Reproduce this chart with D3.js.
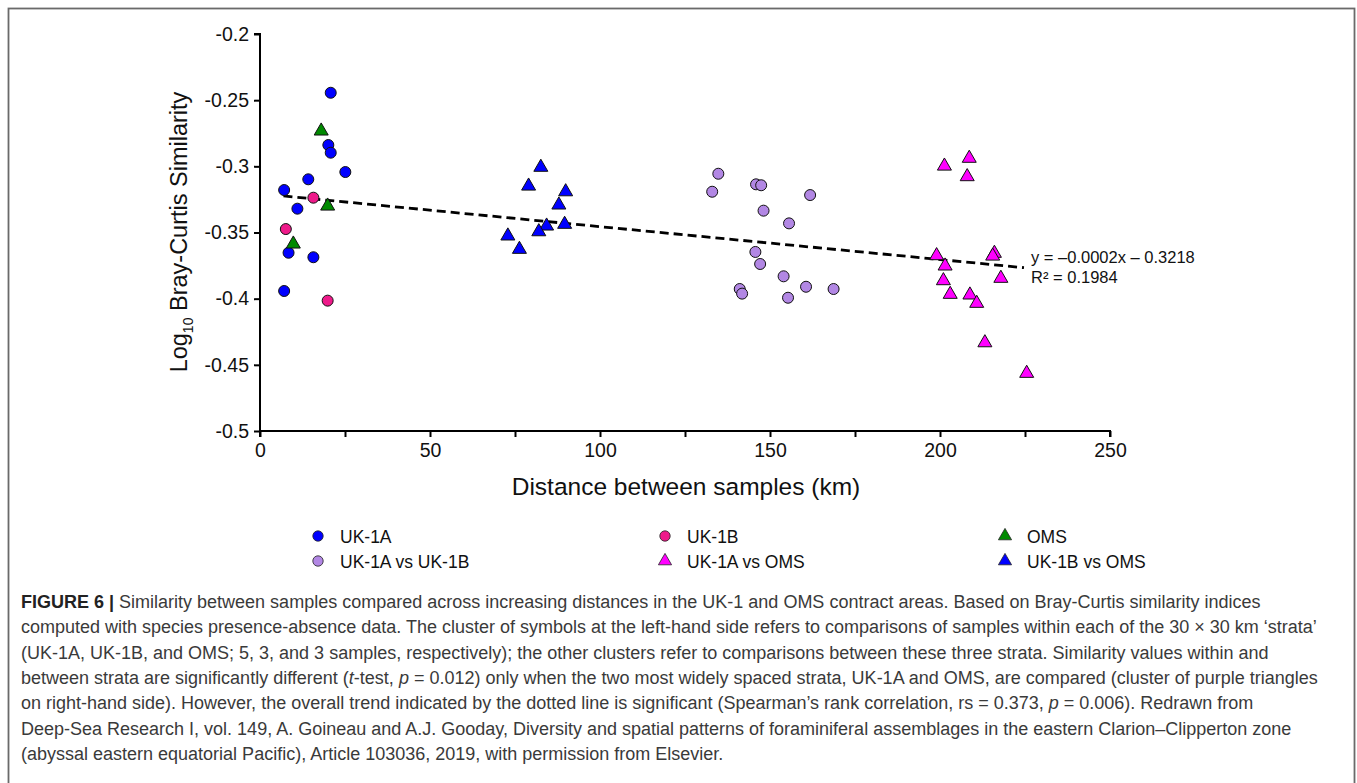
<!DOCTYPE html>
<html>
<head>
<meta charset="utf-8">
<script src="https://cdn.jsdelivr.net/npm/d3@7"></script>
<style>
  body { margin: 0; background: #fff; }
  svg { display: block; font-family: "Liberation Sans", Arial, sans-serif; }
</style>
</head>
<body>
<svg id="chart" width="1357" height="783"></svg>
<script>
// Data (distance in km, log10 Bray-Curtis similarity)
const uk1aX = [20.8, 20.1, 20.8, 25.1, 14.2, 7.1, 11.0, 8.4, 15.7, 7.1];
const uk1aY = [-0.2444, -0.2839, -0.2897, -0.3043, -0.3098, -0.3179, -0.3320, -0.3653, -0.3687, -0.3942];

const uk1bX = [15.7, 7.6, 19.9];
const uk1bY = [-0.3237, -0.3474, -0.4015];

const omsX = [18.0, 19.9, 9.8];
const omsY = [-0.2733, -0.3300, -0.3587];

const aVsBX = [134.8, 133.0, 145.9, 147.4, 161.8, 148.1, 155.6, 145.7, 147.1, 154.0, 160.6, 168.7, 141.1, 141.8, 155.3];
const aVsBY = [-0.3056, -0.3192, -0.3136, -0.3143, -0.3217, -0.3335, -0.3431, -0.3647, -0.3738, -0.3831, -0.3910, -0.3927, -0.3927, -0.3962, -0.3993];

const aVsOmsX = [201.3, 208.6, 208.0, 199.0, 201.5, 216.0, 215.5, 217.9, 201.0, 203.0, 208.8, 210.8, 213.2, 225.5];
const aVsOmsY = [-0.2998, -0.2939, -0.3078, -0.3675, -0.3753, -0.3657, -0.3678, -0.3846, -0.3864, -0.3967, -0.3972, -0.4035, -0.4333, -0.4564];

const bVsOmsX = [82.6, 79.0, 89.9, 87.9, 84.3, 82.0, 89.6, 72.9, 76.3];
const bVsOmsY = [-0.3007, -0.3149, -0.3192, -0.3292, -0.3451, -0.3494, -0.3438, -0.3526, -0.3627];

// regression line end points
const trendX = [6.9, 224.7];
const trendY = [-0.3224, -0.3766];

const xTicks = [0, 50, 100, 150, 200, 250];
const xMinorTicks = [25, 75, 125, 175, 225];
const yTicks = [-0.2, -0.25, -0.3, -0.35, -0.4, -0.45, -0.5];

const series = [
  {name: "UK-1A", xs: uk1aX, ys: uk1aY, shape: "circle", color: "#0000ff"},
  {name: "UK-1B", xs: uk1bX, ys: uk1bY, shape: "circle", color: "#ee1a8a"},
  {name: "OMS", xs: omsX, ys: omsY, shape: "triangle", color: "#008a00"},
  {name: "UK-1A vs UK-1B", xs: aVsBX, ys: aVsBY, shape: "circle", color: "#b287e4"},
  {name: "UK-1A vs OMS", xs: aVsOmsX, ys: aVsOmsY, shape: "triangle", color: "#ff00ff"},
  {name: "UK-1B vs OMS", xs: bVsOmsX, ys: bVsOmsY, shape: "triangle", color: "#0000ff"}
];

const captionLines = [
  [["b", "FIGURE 6 | "], ["", "Similarity between samples compared across increasing distances in the UK-1 and OMS contract areas. Based on Bray-Curtis similarity indices"]],
  [["", "computed with species presence-absence data. The cluster of symbols at the left-hand side refers to comparisons of samples within each of the 30 \u00d7 30 km \u2018strata\u2019"]],
  [["", "(UK-1A, UK-1B, and OMS; 5, 3, and 3 samples, respectively); the other clusters refer to comparisons between these three strata. Similarity values within and"]],
  [["", "between strata are significantly different ("], ["i", "t"], ["", "-test, "], ["i", "p"], ["", " = 0.012) only when the two most widely spaced strata, UK-1A and OMS, are compared (cluster of purple triangles"]],
  [["", "on right-hand side). However, the overall trend indicated by the dotted line is significant (Spearman\u2019s rank correlation, rs = 0.373, "], ["i", "p"], ["", " = 0.006). Redrawn from"]],
  [["", "Deep-Sea Research I, vol. 149, A. Goineau and A.J. Gooday, Diversity and spatial patterns of foraminiferal assemblages in the eastern Clarion\u2013Clipperton zone"]],
  [["", "(abyssal eastern equatorial Pacific), Article 103036, 2019, with permission from Elsevier."]]
];

const svg = d3.select("#chart");

// frame round the figure
svg.append("rect")
  .attr("x", 8.5).attr("y", 8.5)
  .attr("width", 1346).attr("height", 800)
  .attr("fill", "none")
  .attr("stroke", "#6a6a6a")
  .attr("stroke-width", 1.8);

const x = d3.scaleLinear().domain([0, 250]).range([260, 1110]);
const y = d3.scaleLinear().domain([-0.5, -0.2]).range([431, 34]);

// axes
const xAxis = svg.append("g")
  .attr("transform", `translate(0,${y(-0.5)})`)
  .call(d3.axisBottom(x).tickValues(xTicks).tickSize(6).tickPadding(6).tickFormat(d3.format("d")));
svg.append("g")
  .attr("transform", `translate(0,${y(-0.5)})`)
  .call(d3.axisBottom(x).tickValues(xMinorTicks).tickSize(6).tickFormat(""))
  .call(g => g.select(".domain").remove());
const yAxis = svg.append("g")
  .attr("transform", `translate(${x(0)},0)`)
  .call(d3.axisLeft(y).tickValues(yTicks).tickSize(6).tickPadding(5).tickFormat(d => String(d)));

svg.selectAll(".domain").attr("stroke", "#000").attr("stroke-width", 2);
svg.selectAll(".tick line").attr("stroke", "#000").attr("stroke-width", 2);
svg.selectAll(".tick text").attr("font-size", 19.5).attr("fill", "#111")
  .attr("font-family", "'Liberation Sans', Arial, sans-serif");

// plain axis lines, the x axis ends with a downward cap at 250
xAxis.select(".domain").attr("d", `M${x(0)},0H${x(250)}V6`);
yAxis.select(".domain").attr("d", `M-6,${y(-0.2)}H0V${y(-0.5) + 6}`);

// axis titles
svg.append("text")
  .attr("x", 686).attr("y", 495)
  .attr("text-anchor", "middle")
  .attr("font-size", 24.5)
  .attr("fill", "#111")
  .text("Distance between samples (km)");

const yTitle = svg.append("text")
  .attr("transform", "translate(187,232) rotate(-90)")
  .attr("text-anchor", "middle")
  .attr("font-size", 23.5)
  .attr("fill", "#111");
yTitle.append("tspan").text("Log");
yTitle.append("tspan").attr("font-size", 14).attr("dy", 6).text("10");
yTitle.append("tspan").attr("dy", -6).text(" Bray-Curtis Similarity");

// trend line
svg.append("path")
  .datum(d3.zip(trendX, trendY))
  .attr("d", d3.line().x(d => x(d[0])).y(d => y(d[1])))
  .attr("fill", "none")
  .attr("stroke", "#000")
  .attr("stroke-width", 2.8)
  .attr("stroke-dasharray", "9,5");

svg.append("text")
  .attr("x", 1031).attr("y", 263)
  .attr("font-size", 16.5).attr("fill", "#111")
  .text("y = \u20130.0002x \u2013 0.3218");
svg.append("text")
  .attr("x", 1031).attr("y", 283)
  .attr("font-size", 16.5).attr("fill", "#111")
  .text("R\u00b2 = 0.1984");

// points
const symbolFor = {
  circle: d3.symbol().type(d3.symbolCircle).size(95),
  triangle: d3.symbol().type(d3.symbolTriangle).size(85)
};

series.forEach(s => {
  svg.append("g")
    .selectAll("path")
    .data(d3.zip(s.xs, s.ys))
    .join("path")
    .attr("transform", d => `translate(${x(d[0])},${y(d[1])})`)
    .attr("d", symbolFor[s.shape])
    .attr("fill", s.color)
    .attr("stroke", "#111")
    .attr("stroke-width", 1);
});

// legend (3 columns x 2 rows)
const legendCols = [318, 665, 1005];
const legendRows = [536, 561];
const legend = svg.append("g")
  .selectAll("g")
  .data(series)
  .join("g")
  .attr("transform", (d, i) => `translate(${legendCols[i % 3]},${legendRows[Math.floor(i / 3)]})`);
legend.append("path")
  .attr("d", d => d3.symbol().type(d.shape === "circle" ? d3.symbolCircle : d3.symbolTriangle).size(d.shape === "circle" ? 85 : 75)())
  .attr("fill", d => d.color)
  .attr("stroke", "#222")
  .attr("stroke-width", 0.8);
legend.append("text")
  .attr("x", 22).attr("y", 6.5)
  .attr("font-size", 17.5)
  .attr("fill", "#111")
  .text(d => d.name);

// caption
const caption = svg.append("g")
  .attr("font-family", "'Liberation Sans', Arial, sans-serif")
  .attr("font-size", 18)
  .attr("fill", "#3a3a3a");
captionLines.forEach((parts, i) => {
  const t = caption.append("text")
    .attr("x", 21)
    .attr("y", 608 + i * 25.3);
  parts.forEach(([style, txt]) => {
    const sp = t.append("tspan").text(txt);
    if (style === "b") sp.attr("font-weight", "bold").attr("fill", "#222");
    if (style === "i") sp.attr("font-style", "italic");
  });
});
</script>
</body>
</html>
